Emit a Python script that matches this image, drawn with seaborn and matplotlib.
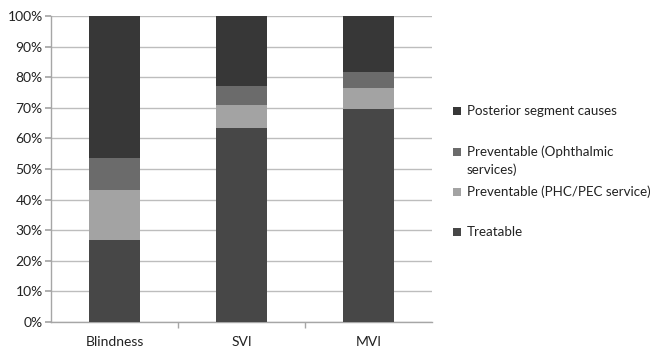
import matplotlib
matplotlib.use("Agg")
import matplotlib.pyplot as plt
import seaborn as sns
import numpy as np
import pandas as pd
from matplotlib.patches import Rectangle
from matplotlib.ticker import FuncFormatter, MultipleLocator

categories = ["Blindness", "SVI", "MVI"]
treatable = [26.8, 63.5, 69.5]
prev_phc = [16.5, 7.5, 7.0]
prev_ophth = [10.4, 6.0, 5.3]
posterior = [46.3, 23.0, 18.2]

series_names = ["Treatable", "Preventable (PHC/PEC service)",
                "Preventable (Ophthalmic\nservices)", "Posterior segment causes"]
colors = ["#474747", "#a3a3a3", "#6b6b6b", "#373737"]

sns.set_theme(style="white")
plt.rcParams["font.family"] = ["Lato", "DejaVu Sans"]

W, H = 652, 349
fig = plt.figure(figsize=(W / 100, H / 100), dpi=100)
ax = fig.add_axes([51 / W, 27 / H, 381 / W, 306 / H])

layers = [treatable, prev_phc, prev_ophth, posterior]
cum = np.cumsum(np.array(layers), axis=0)

# draw from top layer down so lower layers overlay
for i in range(3, -1, -1):
    df = pd.DataFrame({"cat": categories, "val": cum[i]})
    sns.barplot(data=df, x="cat", y="val", color=colors[i], width=0.4,
                saturation=1, ax=ax, edgecolor="none", linewidth=0, zorder=3)

ax.set_ylim(0, 100)
ax.set_xlim(-0.5, 2.5)
ax.yaxis.set_major_locator(MultipleLocator(10))
ax.yaxis.set_major_formatter(FuncFormatter(lambda v, p: f"{int(round(v))}%"))
ax.grid(axis="y", color="#bdbdbd", linewidth=1, zorder=0)
ax.set_axisbelow(True)
ax.set_xlabel("")
ax.set_ylabel("")

for s in ["top", "right"]:
    ax.spines[s].set_visible(False)
for s in ["left", "bottom"]:
    ax.spines[s].set_color("#a6a6a6")
    ax.spines[s].set_linewidth(1)

ax.tick_params(axis="y", which="both", left=True, length=4, color="#a6a6a6",
               labelsize=10, labelcolor="#222222", pad=2)
ax.set_xticks([0, 1, 2])
ax.set_xticklabels(categories)
ax.tick_params(axis="x", which="major", bottom=False, labelsize=10,
               labelcolor="#222222", pad=4)
ax.set_xticks([0.5, 1.5], minor=True)
ax.tick_params(axis="x", which="minor", bottom=True, length=4, color="#a6a6a6")

# legend drawn as figure patches and text (top to bottom)
legend_rows = [
    (3, ["Posterior segment causes"], 111),
    (2, ["Preventable (Ophthalmic", "services)"], 152),
    (1, ["Preventable (PHC/PEC service)"], 192),
    (0, ["Treatable"], 232),
]
for idx, lines, y in legend_rows:
    fig.patches.append(Rectangle((453 / W, 1 - (y + 4) / H), 8 / W, 8 / H,
                                 transform=fig.transFigure, facecolor=colors[idx],
                                 edgecolor="none"))
    for k, line in enumerate(lines):
        fig.text(467 / W, 1 - (y + 18 * k) / H, line, ha="left", va="center",
                 fontsize=9.6, color="#222222")

fig.savefig("out.png", dpi=100)
